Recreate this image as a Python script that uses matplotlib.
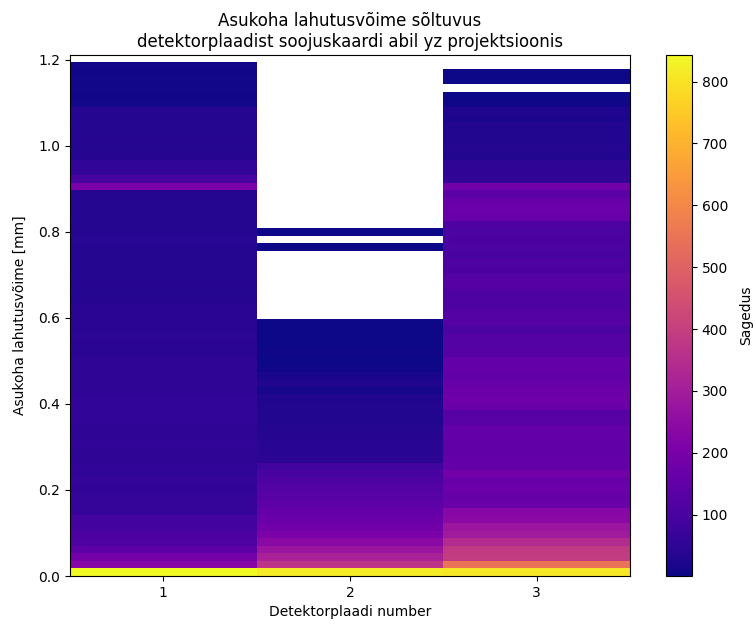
import numpy as np
import matplotlib
matplotlib.use("Agg")
import matplotlib.pyplot as plt

detectors = [1, 2, 3]
y_max = 1.196
n_bins = 68

det1_counts = [843, 230, 190, 140, 112, 108, 92, 88, 64, 62,
               62, 60, 62, 54, 55, 53, 52, 54, 53, 52,
               54, 55, 56, 55, 50, 49, 51, 50, 48, 43,
               42, 44, 42, 41, 43, 42, 34, 33, 35, 33,
               32, 34, 33, 36, 38, 37, 33, 32, 34, 33,
               35, 205, 95, 60, 56, 34, 33, 35, 34, 33,
               32, 34, 8, 7, 9, 8, 7, 8]
det2_counts = [815, 370, 315, 275, 240, 207, 183, 166, 155, 142,
               130, 120, 110, 100, 85, 45, 40, 38, 35, 32,
               30, 28, 28, 27, 12, 25, 15, 5, 4, 5,
               3, 4, 3, 2, 0, 0, 0, 0, 0, 0,
               0, 0, 0, 1, 0, 1, 0, 0, 0, 0,
               0, 0, 0, 0, 0, 0, 0, 0, 0, 0,
               0, 0, 0, 0, 0, 0, 0, 0]
det3_counts = [810, 545, 390, 385, 340, 292, 280, 238, 232, 170,
               162, 168, 165, 182, 158, 155, 150, 152, 158, 155,
               130, 128, 172, 178, 175, 160, 152, 158, 155, 128,
               122, 125, 105, 128, 125, 112, 110, 112, 128, 125,
               108, 110, 100, 104, 108, 105, 110, 165, 168, 165,
               140, 185, 60, 52, 48, 30, 32, 28, 30, 28,
               18, 25, 6, 4, 0, 2, 2, 0]

y_edges = np.linspace(0, y_max, n_bins + 1)
y_centers = 0.5 * (y_edges[:-1] + y_edges[1:])
x_edges = np.array([0.5, 1.5, 2.5, 3.5])

xs, ys, ws = [], [], []
for d, counts in zip(detectors, [det1_counts, det2_counts, det3_counts]):
    xs.extend([d] * n_bins)
    ys.extend(y_centers)
    ws.extend(counts)

fig = plt.figure(figsize=(7.54, 6.28), dpi=100)
ax = fig.add_axes([70/754, 52/628, 560/754, 521/628])
cax = fig.add_axes([666/754, 52/628, 26/754, 521/628])

h = ax.hist2d(xs, ys, bins=[x_edges, y_edges], weights=ws, cmap='plasma', cmin=1)
ax.set_ylim(0, 1.2116)
ax.set_xticks([1, 2, 3])
ax.set_xlabel("Detektorplaadi number")
ax.set_ylabel("Asukoha lahutusvõime [mm]", labelpad=8)
ax.set_title("Asukoha lahutusvõime sõltuvus\ndetektorplaadist soojuskaardi abil yz projektsioonis")

cb = fig.colorbar(h[3], cax=cax)
cb.set_label("Sagedus", labelpad=8)

fig.savefig("out.png", dpi=100)
